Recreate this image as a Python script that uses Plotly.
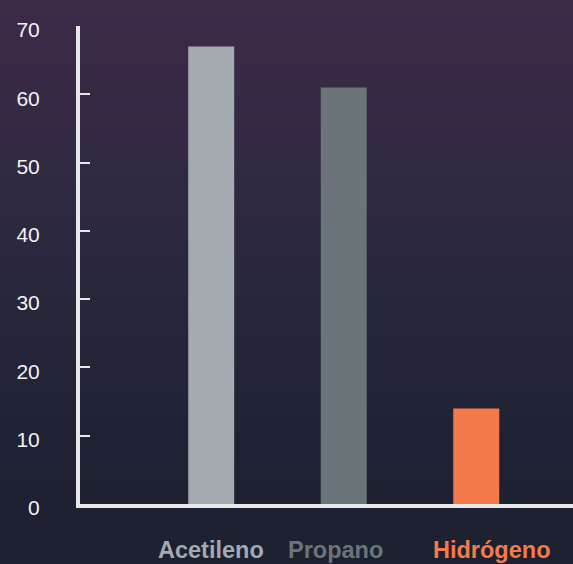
import base64, struct, zlib
import plotly.graph_objects as go

categories = ["Acetileno", "Propano", "Hidrógeno"]
values = [67, 61, 14]
bar_colors = ["#a3aab0", "#6b7479", "#f47a4c"]
label_colors = ["#a3aab0", "#6b7479", "#f47a4c"]
label_shift = [0, -8, 16]
y_ticks = [0, 10, 20, 30, 40, 50, 60, 70]


def gradient_png(w, h, stops):
    rows = []
    for j in range(h):
        t = j / (h - 1)
        for k in range(len(stops) - 1):
            if stops[k][0] <= t <= stops[k + 1][0]:
                a, b = stops[k], stops[k + 1]
                f = (t - a[0]) / (b[0] - a[0]) if b[0] > a[0] else 0
                c = [int(round(a[1][i] + (b[1][i] - a[1][i]) * f)) for i in range(3)]
                break
        row = b"\x00" + bytes(c) * w
        rows.append(row)
    raw = b"".join(rows)

    def chunk(tag, data):
        return struct.pack(">I", len(data)) + tag + data + struct.pack(">I", zlib.crc32(tag + data) & 0xffffffff)

    png = b"\x89PNG\r\n\x1a\n" + chunk(b"IHDR", struct.pack(">IIBBBBB", w, h, 8, 2, 0, 0, 0))
    png += chunk(b"IDAT", zlib.compress(raw, 9)) + chunk(b"IEND", b"")
    return "data:image/png;base64," + base64.b64encode(png).decode()


bg = gradient_png(4, 128, [
    (0.0, (62, 43, 72)),
    (0.25, (52, 41, 68)),
    (0.5, (40, 39, 60)),
    (0.75, (31, 34, 52)),
    (1.0, (27, 32, 47)),
])

fig = go.Figure()
fig.add_trace(go.Bar(
    x=categories, y=values, marker=dict(color=bar_colors, line=dict(width=0)),
    width=0.347, hoverinfo="skip",
))

for cat, col, sh in zip(categories, label_colors, label_shift):
    fig.add_annotation(
        x=cat, xref="x", y=0, yref="paper", yshift=-46, xshift=sh,
        text=f"<b>{cat}</b>", showarrow=False, yanchor="middle",
        font=dict(family="Liberation Sans, Arial, sans-serif", size=23.5, color=col),
    )

fig.update_layout(
    width=573, height=564,
    margin=dict(l=80, r=0, t=26, b=60),
    paper_bgcolor="#262838", plot_bgcolor="rgba(0,0,0,0)",
    showlegend=False,
    images=[dict(source=bg, xref="paper", yref="paper", x=-0.2, y=1.1,
                 sizex=1.4, sizey=1.3, sizing="stretch", layer="below",
                 xanchor="left", yanchor="top")],
    xaxis=dict(
        range=[-0.99, 2.73], showline=True, linewidth=4, linecolor="#e6e8ea",
        showticklabels=False, ticks="", showgrid=False, zeroline=False, fixedrange=True,
    ),
    yaxis=dict(
        range=[0, 70], tickvals=y_ticks, ticks="inside", ticklen=10, tickwidth=2,
        tickcolor="#e6e8ea", showline=True, linewidth=4, linecolor="#e6e8ea",
        showgrid=False, zeroline=False, ticklabelstandoff=32, ticklabelshift=4,
        tickfont=dict(family="Liberation Sans, Arial, sans-serif", size=21, color="#f2f2f2"),
    ),
)

fig.write_html(
    "out.html",
    config={"displayModeBar": False},
    post_script="document.body.style.margin='0';document.body.style.padding='0';document.body.style.overflow='hidden';",
)
